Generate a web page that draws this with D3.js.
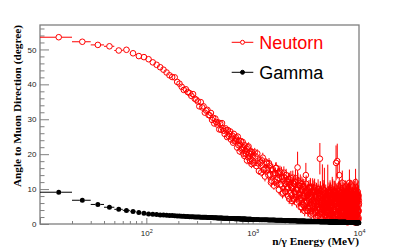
<!DOCTYPE html>
<html>
<head>
<meta charset="utf-8">
<script src="https://cdn.jsdelivr.net/npm/d3@7"></script>
<style>
  body { margin: 0; background: #fff; }
  svg { display: block; }
</style>
</head>
<body>
<script>
'use strict';

// bin centres (MeV), 10 MeV wide bins
const energies = [
  15,25,35,45,55,65,75,85,95,105,115,125,135,145,155,165,175,185,195,205,
  215,225,235,245,255,265,275,285,295,
  305,315,325,335,345,355,365,375,385,395,405,415,425,435,445,455,465,475,485,495,
  505,515,525,535,545,555,565,575,585,595,605,615,625,635,645,655,665,675,685,695,
  705,715,725,735,745,755,765,775,785,795,805,815,825,835,845,855,865,875,885,895,
  905,915,925,935,945,955,965,975,985,995,
  1005,1045,1085,1125,1165,1205,1245,1285,1325,1365,
  1405,1445,1485,1525,1565,1605,1645,1685,1725,1765,
  1805,1845,1885,1925,1965,2005,2045,2085,2125,2165,
  2205,2245,2285,2325,2365,2405,2445,2485,2525,2565,
  2605,2645,2685,2725,2765,2805,2845,2885,2925,2965,
  3005,3045,3085,3125,3165,3205,3245,3285,3325,3365,
  3405,3445,3485,3525,3565,3605,3645,3685,3725,3765,
  3805,3845,3885,3925,3965,4005,4045,4085,4125,4165,
  4205,4245,4285,4325,4365,4405,4445,4485,4525,4565,
  4605,4645,4685,4725,4765,4805,4845,4885,4925,4965,
  5005,5045,5085,5125,5165,5205,5245,5285,5325,5365,
  5405,5445,5485,5525,5565,5605,5645,5685,5725,5765,
  5805,5845,5885,5925,5965,6005,6045,6085,6125,6165,
  6205,6245,6285,6325,6365,6405,6445,6485,6525,6565,
  6605,6645,6685,6725,6765,6805,6845,6885,6925,6965,
  7005,7045,7085,7125,7165,7205,7245,7285,7325,7365,
  7405,7445,7485,7525,7565,7605,7645,7685,7725,7765,
  7805,7845,7885,7925,7965,8005,8045,8085,8125,8165,
  8205,8245,8285,8325,8365,8405,8445,8485,8525,8565,
  8605,8645,8685,8725,8765,8805,8845,8885,8925,8965,
  9005,9045,9085,9125,9165,9205,9245,9285,9325,9365,
  9405,9445,9485,9525,9565,9605,9645,9685,9725,9765,
  9805,9845,9885,9925,9965
];

const neutronAngle = [
  53.5,52.2,51.3,50.9,49.7,49.9,48.9,48.1,47.8,47.2,
  46.3,45.6,44.9,44.2,43.4,42.6,42.1,42.0,40.7,40.2,
  39.3,38.4,38.6,37.8,37.5,36.7,37.2,35.9,35.6,
  35.1,33.7,34.9,33.4,33.7,31.9,32.5,32.7,31.2,31.1,
  31.8,29.8,30.4,28.8,30.2,29.2,28.5,29.1,27.1,28.8,
  27.0,28.9,27.4,26.7,25.8,27.4,26.8,24.9,26.9,25.2,
  25.8,26.5,24.2,24.8,25.3,23.3,25.8,23.7,23.9,24.8,
  24.1,21.9,25.0,22.6,23.8,20.8,22.7,23.7,21.3,21.7,
  23.5,20.2,21.9,19.5,22.5,21.0,20.1,21.6,18.2,22.0,
  19.1,22.2,20.2,19.3,18.1,20.8,20.1,17.2,20.6,18.2,
  19.4,20.5,16.6,17.4,18.2,14.8,19.0,15.7,15.9,17.3,
  14.0,16.7,11.9,15.3,14.4,12.1,16.0,12.7,14.5,9.8,
  15.0,11.3,13.5,9.0,14.7,11.5,9.2,12.2,10.2,12.9,
  7.2,11.2,13.2,8.2,10.3,7.1,11.5,9.1,13.1,7.7,
  10.2,16.2,11.1,8.7,7.0,11.8,7.5,4.8,9.6,10.7,
  5.5,8.2,3.7,9.6,14.0,6.2,8.2,4.5,9.6,6.8,
  8.7,5.0,10.6,3.7,7.6,9.2,5.1,6.7,3.0,9.8,
  5.7,9.4,3.9,7.7,2.1,8.4,6.7,3.3,10.0,4.8,
  8.7,4.4,18.7,9.4,3.4,5.5,7.6,2.5,10.1,4.5,
  5.8,8.8,3.6,9.6,6.1,4.8,2.6,7.8,6.9,1.7,
  3.4,6.8,9.5,4.6,8.1,1.5,5.8,8.5,3.6,6.3,
  8.9,2.8,5.3,1.0,7.1,7.5,4.0,9.2,2.1,6.1,
  4.3,7.9,1.6,6.6,9.3,2.9,5.7,17.5,8.4,1.2,
  7.4,18.0,2.4,8.7,3.7,5.1,1.0,6.9,14.0,4.7,
  1.9,9.1,5.6,3.3,7.8,1.5,6.5,4.2,9.6,11.8,
  6.8,1.0,8.2,5.0,3.7,8.6,2.3,5.9,4.6,7.3,
  1.3,6.4,9.1,2.7,5.5,4.1,7.8,0.6,6.8,8.2,
  4.9,2.1,7.2,3.5,8.6,0.8,5.8,7.7,11.8,9.5,
  4.4,8.2,1.6,6.3,2.5,9.1,5.4,1.1,6.8,3.5,
  7.7,3.0,5.8,0.7,8.7,4.9,2.1,7.3,3.9,9.1,
  2.4,6.2,0.5,8.2,5.3,3.4,7.7,12.0,9.6,4.3,
  5.8,0.9,7.2,4.8,2.9,8.6,1.9,6.7,3.8,8.2,
  3.4,7.7,1.4,5.3,6.7
];

const neutronErr = [
  0.2,0.2,0.2,0.2,0.2,0.2,0.2,0.2,0.3,0.3,
  0.3,0.3,0.3,0.3,0.3,0.3,0.3,0.3,0.4,0.4,
  0.4,0.4,0.4,0.4,0.4,0.4,0.5,0.5,0.5,
  0.5,0.5,0.5,0.5,0.5,0.6,0.6,0.6,0.6,0.6,
  0.6,0.6,0.7,0.6,0.7,0.7,0.7,0.7,0.7,0.7,
  0.7,0.8,0.7,0.8,0.8,0.8,0.8,0.8,0.8,0.8,
  0.8,0.9,0.8,0.9,0.9,0.9,0.9,0.9,0.9,0.9,
  1.0,0.9,1.0,1.0,1.0,1.0,1.0,1.0,1.0,1.0,
  1.0,1.1,1.0,1.1,1.1,1.1,1.1,1.1,1.1,1.1,
  1.1,1.2,1.1,1.2,1.2,1.2,1.2,1.2,1.2,1.2,
  1.2,1.3,1.1,1.2,1.3,1.2,1.4,1.2,1.3,1.3,
  1.4,1.5,1.3,1.5,1.4,1.3,1.6,1.4,1.5,1.3,
  1.7,1.5,1.6,1.4,1.8,1.6,1.5,1.7,1.6,1.8,
  1.5,1.8,2.0,1.6,1.9,1.5,2.1,1.8,2.4,1.6,
  2.0,4.5,2.2,1.9,1.7,2.4,1.8,1.5,2.1,2.3,
  1.8,2.1,1.5,2.3,3.5,1.9,2.2,1.7,2.4,2.0,
  2.3,1.8,2.6,1.6,2.2,2.5,1.9,2.1,1.5,2.7,
  2.0,2.6,1.7,2.3,1.4,2.5,2.1,1.6,2.8,1.9,
  2.6,1.9,4.5,2.8,1.7,2.2,2.5,1.5,7.0,1.9,
  2.2,2.8,1.7,6.5,2.3,2.0,1.5,2.6,2.4,1.3,
  1.8,2.4,7.5,2.0,2.7,1.2,2.3,2.8,1.9,2.4,
  3.0,1.6,2.3,1.1,2.7,6.0,1.9,3.1,1.4,2.4,
  2.0,2.9,1.3,2.6,3.2,1.8,2.3,5.0,3.0,1.2,
  2.8,5.0,1.7,3.1,2.0,2.4,1.1,2.8,4.0,2.3,
  1.5,3.2,2.5,1.9,3.0,1.3,2.7,2.1,3.4,3.5,
  2.8,1.1,3.1,2.4,2.0,3.2,1.6,2.6,2.3,2.9,
  1.3,2.7,3.4,1.8,2.5,2.2,3.1,1.0,2.8,3.2,
  2.5,1.6,3.0,2.1,3.3,1.1,2.6,3.1,3.8,3.5,
  2.3,3.2,1.5,2.7,1.8,3.5,2.6,1.2,2.8,2.1,
  3.0,2.0,2.6,1.0,3.3,2.4,1.6,3.0,2.2,3.4,
  1.8,2.7,0.9,3.2,2.5,2.1,3.1,3.8,3.6,2.3,
  2.6,1.2,3.0,2.4,1.9,3.3,1.5,2.9,2.2,3.2,
  2.0,3.1,1.4,2.6,2.9
];

// neutron-only bins between the ones above (above 1 GeV the cloud is dense)
const extraEnergies = [
  1025,1065,1105,1145,1185,1225,1265,1305,1345,1385,
  1425,1465,1505,1545,1585,1625,1665,1705,1745,1785,
  1825,1865,1905,1945,1985,2025,2065,2105,2145,2185,
  2225,2265,2305,2345,2385,2425,2465,2505,2545,2585,
  2625,2665,2705,2745,2785,2825,2865,2905,2945,2985,
  3025,3065,3105,3145,3185,3225,3265,3305,3345,3385,
  3425,3465,3505,3545,3585,3625,3665,3705,3745,3785,
  3825,3865,3905,3945,3985,4025,4065,4105,4145,4185,
  4225,4265,4305,4345,4385,4425,4465,4505,4545,4585,
  4625,4665,4705,4745,4785,4825,4865,4905,4945,4985,
  5025,5065,5105,5145,5185,5225,5265,5305,5345,5385,
  5425,5465,5505,5545,5585,5625,5665,5705,5745,5785,
  5825,5865,5905,5945,5985,6025,6065,6105,6145,6185,
  6225,6265,6305,6345,6385,6425,6465,6505,6545,6585,
  6625,6665,6705,6745,6785,6825,6865,6905,6945,6985,
  7025,7065,7105,7145,7185,7225,7265,7305,7345,7385,
  7425,7465,7505,7545,7585,7625,7665,7705,7745,7785,
  7825,7865,7905,7945,7985,8025,8065,8105,8145,8185,
  8225,8265,8305,8345,8385,8425,8465,8505,8545,8585,
  8625,8665,8705,8745,8785,8825,8865,8905,8945,8985,
  9025,9065,9105,9145,9185,9225,9265,9305,9345,9385,
  9425,9465,9505,9545,9585,9625,9665,9705,9745,9785,
  9825,9865,9905,9945,9985
];

const neutronExtraAngle = [
  17.4,19.4,20.2,15.2,17.5,18.2,15.5,13.6,17.6,15.6,
  17.4,14.1,12.4,15.7,11.0,14.6,16.1,11.6,13.2,14.5,
  11.4,14.7,8.7,12.4,13.3,9.3,14.0,10.6,8.1,12.1,
  12.8,8.8,10.6,6.6,13.3,10.8,7.3,12.1,8.5,6.2,
  9.8,12.5,6.7,8.2,10.9,4.8,9.9,11.4,5.7,8.0,
  10.7,5.0,8.9,6.0,11.5,6.6,9.3,3.7,7.6,10.3,
  4.6,7.8,10.3,2.7,8.5,5.5,10.5,4.6,9.1,6.2,
  10.4,3.1,8.1,6.4,9.3,4.1,5.3,8.8,2.3,7.4,
  4.3,8.2,2.9,9.5,6.8,1.5,8.5,4.9,7.1,9.8,
  6.2,3.1,9.7,4.4,7.9,2.1,8.7,5.6,3.4,7.4,
  6.9,1.5,8.2,5.5,3.7,9.1,2.4,6.4,9.6,4.6,
  1.7,7.1,4.9,8.5,3.1,6.2,9.8,2.6,7.6,4.0,
  8.0,4.3,9.3,2.0,5.7,3.4,8.9,1.1,6.6,7.5,
  2.8,8.3,5.1,1.4,6.9,9.2,3.7,6.0,0.9,7.9,
  6.0,2.3,8.8,4.6,0.9,7.4,5.6,8.3,3.3,6.5,
  4.1,9.2,1.7,6.9,7.8,3.1,5.0,0.8,8.8,2.7,
  7.4,4.5,1.2,8.3,5.9,2.2,9.2,3.6,5.5,0.5,
  8.7,3.0,6.3,0.6,4.9,7.8,3.9,1.5,6.8,9.2,
  2.0,5.9,8.3,3.5,9.2,1.1,7.3,4.9,2.5,7.8,
  6.3,1.5,7.8,5.4,3.0,8.7,0.6,6.8,5.9,3.9,
  9.2,2.4,5.8,0.9,7.2,4.8,3.3,8.2,1.9,6.8,
  4.3,7.7,0.4,6.3,8.7,2.8,5.3,1.4,9.2,3.8,
  7.3,1.9,8.2,3.8,5.8
];

const neutronExtraErr = [
  1.2,1.3,1.2,1.1,1.3,1.2,1.3,1.4,1.2,1.3,
  1.5,1.4,1.3,1.5,1.2,1.4,1.6,1.3,1.4,1.5,
  1.5,1.7,1.4,1.6,1.7,1.5,1.8,1.6,1.4,1.7,
  1.9,1.7,1.8,1.5,2.0,1.8,1.6,2.0,1.7,1.5,
  1.9,2.2,1.7,1.9,2.1,1.6,2.0,2.2,1.7,1.9,
  2.2,1.8,2.0,1.9,2.4,1.9,2.1,1.6,2.0,2.3,
  1.9,2.2,2.5,1.6,2.3,2.0,2.6,1.9,2.4,2.1,
  2.6,1.8,2.3,2.1,2.5,1.9,2.0,2.5,1.6,2.3,
  2.0,2.5,1.8,2.7,2.2,1.4,2.5,2.0,2.3,2.8,
  2.3,1.9,2.8,2.0,2.5,1.6,2.6,2.2,1.9,2.5,
  2.4,1.4,2.6,2.2,1.9,2.8,1.7,2.4,2.9,2.1,
  1.5,2.6,2.2,2.8,1.9,2.4,3.0,1.7,2.7,2.0,
  2.8,2.1,3.0,1.6,2.4,2.0,2.9,1.2,2.6,2.7,
  1.8,2.8,2.3,1.3,2.6,3.0,2.0,2.4,1.1,2.8,
  2.4,1.7,2.9,2.2,1.1,2.7,2.4,2.9,2.0,2.6,
  2.2,3.0,1.5,2.6,2.8,1.9,2.3,1.0,2.9,1.8,
  2.7,2.2,1.3,2.9,2.4,1.7,3.0,2.0,2.4,0.9,
  2.9,1.9,2.6,0.9,2.3,2.8,2.0,1.4,2.6,3.1,
  1.6,2.5,2.9,2.0,3.1,1.2,2.7,2.3,1.8,2.8,
  2.6,1.4,2.8,2.4,2.0,3.0,0.9,2.6,2.5,2.1,
  3.1,1.8,2.5,1.1,2.7,2.3,2.0,2.9,1.6,2.6,
  2.2,2.8,0.8,2.6,3.0,1.9,2.4,1.4,3.1,2.1,
  2.7,1.6,2.9,2.1,2.4
];

const gammaAngle = [
  9.1,6.8,5.6,4.8,4.2,3.9,3.6,3.3,3.1,2.9,
  2.8,2.7,2.6,2.55,2.5,2.45,2.4,2.35,2.3,2.27,
  2.24,2.2,2.17,2.14,2.11,2.08,2.05,2.03,2.0,
  1.99,1.97,1.96,1.94,1.93,1.91,1.9,1.88,1.87,1.86,
  1.84,1.83,1.81,1.8,1.78,1.77,1.75,1.74,1.72,1.71,
  1.7,1.69,1.68,1.67,1.66,1.65,1.64,1.63,1.62,1.61,
  1.6,1.59,1.58,1.57,1.56,1.55,1.54,1.53,1.52,1.51,
  1.5,1.49,1.49,1.48,1.47,1.47,1.46,1.45,1.45,1.44,
  1.43,1.43,1.42,1.41,1.41,1.4,1.39,1.39,1.38,1.37,
  1.37,1.36,1.35,1.35,1.34,1.33,1.33,1.32,1.31,1.31,
  1.3,1.29,1.28,1.26,1.25,1.24,1.23,1.22,1.21,1.19,
  1.16,1.15,1.14,1.13,1.12,1.11,1.1,1.09,1.08,1.07,
  1.06,1.05,1.04,1.03,1.02,1.0,0.99,0.98,0.98,0.97,
  0.96,0.95,0.95,0.94,0.93,0.92,0.92,0.91,0.9,0.9,
  0.89,0.88,0.88,0.87,0.87,0.86,0.86,0.85,0.85,0.84,
  0.84,0.83,0.83,0.82,0.82,0.81,0.8,0.8,0.79,0.79,
  0.78,0.78,0.77,0.77,0.76,0.76,0.75,0.75,0.74,0.74,
  0.73,0.73,0.72,0.72,0.72,0.71,0.71,0.7,0.7,0.69,
  0.69,0.69,0.68,0.68,0.67,0.67,0.67,0.66,0.66,0.66,
  0.65,0.65,0.65,0.64,0.64,0.64,0.63,0.63,0.63,0.62,
  0.62,0.62,0.61,0.61,0.61,0.6,0.6,0.6,0.6,0.59,
  0.59,0.59,0.58,0.58,0.58,0.58,0.57,0.57,0.57,0.57,
  0.56,0.56,0.56,0.56,0.55,0.55,0.55,0.55,0.54,0.54,
  0.54,0.54,0.53,0.53,0.53,0.53,0.52,0.52,0.52,0.52,
  0.52,0.51,0.51,0.51,0.51,0.5,0.5,0.5,0.5,0.5,
  0.49,0.49,0.49,0.49,0.48,0.48,0.48,0.48,0.48,0.47,
  0.47,0.47,0.47,0.47,0.46,0.46,0.46,0.46,0.46,0.45,
  0.45,0.45,0.45,0.45,0.44,0.44,0.44,0.44,0.44,0.44,
  0.43,0.43,0.43,0.43,0.43,0.42,0.42,0.42,0.42,0.42,
  0.42,0.41,0.41,0.41,0.41,0.41,0.41,0.4,0.4,0.4,
  0.4,0.4,0.4,0.39,0.39,0.39,0.39,0.39,0.39,0.38,
  0.38,0.38,0.38,0.38,0.38,0.37,0.37,0.37,0.37,0.37,
  0.37,0.37,0.36,0.36,0.36
];

const binHalfWidth = 5;
const xTicks = [10, 100, 1000, 10000];
const xTickExp = ['', '2', '3', '4'];
const yTicks = [0, 10, 20, 30, 40, 50];
const legendLabels = ['Neutorn', 'Gamma'];
const xTitle = 'n/\u03b3 Energy (MeV)';
const yTitle = 'Angle to Muon Direction (degree)';

(function() {

  let svg = '';
  let frame = {left: 40, right: 359, top: 25, bottom: 224};
  let axisGray = '#7f7f7f';

  window.onload = function() {
    svg = d3.select('body')
      .append('svg')
      .attr('width', 399)
      .attr('height', 249);

    svg.append('rect')
      .attr('x', frame.left)
      .attr('y', frame.top)
      .attr('width', frame.right - frame.left)
      .attr('height', frame.bottom - frame.top)
      .attr('fill', 'none')
      .attr('stroke', axisGray)
      .attr('stroke-width', 1.3);

    let scales = drawAxes();
    plotSeries(scales, energies.concat(extraEnergies),
      neutronAngle.concat(neutronExtraAngle),
      neutronErr.concat(neutronExtraErr), 'red', false, 2.8);
    plotSeries(scales, energies, gammaAngle, null, 'black', true, 2.5);
    makeLabels();
    makeLegend();
  }

  function drawAxes() {
    let xScale = d3.scaleLog()
      .domain([10, 10000])
      .range([frame.left, frame.right]);

    let yScale = d3.scaleLinear()
      .domain([0, 57])
      .range([frame.bottom, frame.top]);

    let xMinor = [];
    xTicks.slice(0, -1).forEach((t) => {
      for (let k = 2; k < 10; k++) xMinor.push(t * k);
    });
    let yMinor = d3.range(2, 57, 2).filter((v) => v % 10 != 0);

    svg.append('g')
      .attr('transform', 'translate(0,' + frame.bottom + ')')
      .call(d3.axisBottom(xScale).tickValues(xMinor).tickSize(-3).tickFormat(''));

    let gx = svg.append('g')
      .attr('transform', 'translate(0,' + frame.bottom + ')')
      .call(d3.axisBottom(xScale).tickValues(xTicks).tickSize(-6).tickPadding(6).tickFormat(''));

    gx.selectAll('.tick text').each(function(d, i) {
      if (!xTickExp[i]) return;
      let t = d3.select(this);
      t.append('tspan').text('10');
      t.append('tspan')
        .attr('dy', '-0.5em')
        .text(xTickExp[i]);
    });

    svg.append('g')
      .attr('transform', 'translate(' + frame.left + ',0)')
      .call(d3.axisLeft(yScale).tickValues(yMinor).tickSize(-4.5).tickFormat(''));

    svg.append('g')
      .attr('transform', 'translate(' + frame.left + ',0)')
      .call(d3.axisLeft(yScale).tickValues(yTicks).tickSize(-9).tickPadding(3.5));

    svg.selectAll('.domain').remove();
    svg.selectAll('.tick line').attr('stroke', axisGray).attr('stroke-width', 1);
    svg.selectAll('.tick text')
      .attr('fill', '#222')
      .style('font-family', '"Liberation Sans", Arial, sans-serif')
      .style('font-size', '8px');
    gx.selectAll('.tick text tspan:nth-child(2)').style('font-size', '5.5px');

    return {x: xScale, y: yScale};
  }

  function plotSeries(scales, xs, values, errs, color, filled, r) {
    let x = scales.x;
    let y = scales.y;
    let pts = xs.map((e, i) => ({e: e, v: values[i], err: errs ? errs[i] : 0}));
    let g = svg.append('g')
      .attr('stroke', color)
      .attr('stroke-width', 1);

    // horizontal error bars (bin width), outside the marker
    let wide = pts.filter((d) => x(d.e) - x(d.e - binHalfWidth) > r);
    g.selectAll('.exl')
      .data(wide)
      .enter()
      .append('line')
        .attr('x1', (d) => x(d.e - binHalfWidth))
        .attr('x2', (d) => x(d.e) - r)
        .attr('y1', (d) => y(d.v))
        .attr('y2', (d) => y(d.v));
    g.selectAll('.exr')
      .data(wide)
      .enter()
      .append('line')
        .attr('x1', (d) => x(d.e) + r)
        .attr('x2', (d) => x(d.e + binHalfWidth))
        .attr('y1', (d) => y(d.v))
        .attr('y2', (d) => y(d.v));

    // vertical error bars
    let tall = pts.filter((d) => y(d.v) - y(d.v + d.err) > r);
    g.selectAll('.eyu')
      .data(tall)
      .enter()
      .append('line')
        .attr('x1', (d) => x(d.e))
        .attr('x2', (d) => x(d.e))
        .attr('y1', (d) => y(d.v) - r)
        .attr('y2', (d) => y(d.v + d.err));
    g.selectAll('.eyd')
      .data(tall)
      .enter()
      .append('line')
        .attr('x1', (d) => x(d.e))
        .attr('x2', (d) => x(d.e))
        .attr('y1', (d) => y(d.v) + r)
        .attr('y2', (d) => y(Math.max(0, d.v - d.err)));

    g.selectAll('.dot')
      .data(pts)
      .enter()
      .append('circle')
        .attr('cx', (d) => x(d.e))
        .attr('cy', (d) => y(d.v))
        .attr('r', r)
        .attr('fill', filled ? color : 'none')
        .attr('stroke', filled ? 'none' : color);
  }

  function makeLabels() {
    svg.append('text')
      .attr('x', frame.right)
      .attr('y', 244.5)
      .attr('text-anchor', 'end')
      .style('font-family', '"Liberation Serif", "Times New Roman", serif')
      .style('font-weight', 'bold')
      .style('font-size', '11.3px')
      .text(xTitle);

    svg.append('text')
      .attr('transform', 'translate(20.5,' + frame.top + ')rotate(-90)')
      .attr('text-anchor', 'end')
      .style('font-family', '"Liberation Serif", "Times New Roman", serif')
      .style('font-weight', 'bold')
      .style('font-size', '11.3px')
      .text(yTitle);
  }

  function makeLegend() {
    let colors = ['red', 'black'];
    let rows = [42.3, 72.3];
    legendLabels.forEach((label, i) => {
      svg.append('line')
        .attr('x1', 231.7)
        .attr('x2', 253.3)
        .attr('y1', rows[i])
        .attr('y2', rows[i])
        .attr('stroke', colors[i])
        .attr('stroke-width', 1);
      svg.append('circle')
        .attr('cx', 242.5)
        .attr('cy', rows[i])
        .attr('r', 2)
        .attr('fill', i == 0 ? 'white' : colors[i])
        .attr('stroke', colors[i])
        .attr('stroke-width', 1);
      svg.append('text')
        .attr('x', 259.3)
        .attr('y', rows[i] + 6.8)
        .attr('fill', colors[i])
        .style('font-family', '"Liberation Sans", Arial, sans-serif')
        .style('font-size', '18px')
        .text(label);
    });
  }

})();
</script>
</body>
</html>
